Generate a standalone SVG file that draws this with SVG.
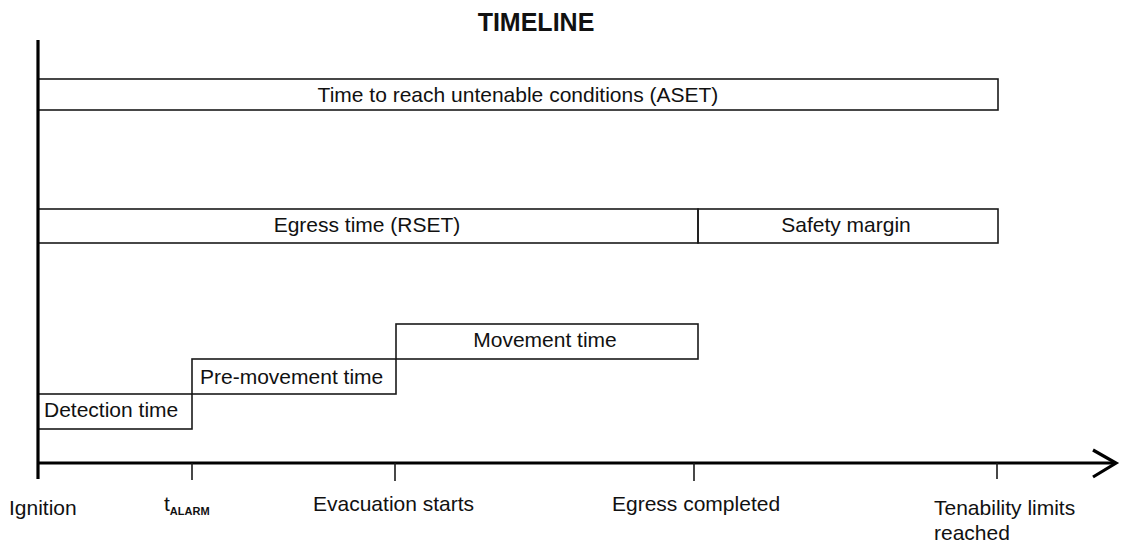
<svg xmlns="http://www.w3.org/2000/svg" width="1123" height="548" viewBox="0 0 1123 548">
<style>
.bx{fill:none;stroke:#1a1a1a;stroke-width:1.6}
.ax{stroke:#000;stroke-width:3.2;fill:none}
.tk{stroke:#1a1a1a;stroke-width:1.6}
text{font-family:"Liberation Sans",Arial,sans-serif;font-size:21px;fill:#111}
.c{text-anchor:middle}
</style>
<rect width="1123" height="548" fill="#fff"/>
<text id="title" x="536" y="31" class="c" style="font-weight:bold;font-size:25px">TIMELINE</text>
<g id="aset"><rect class="bx" x="38" y="79" width="960" height="31"/><text x="518" y="102" class="c">Time to reach untenable conditions (ASET)</text></g>
<g id="rset"><rect class="bx" x="38" y="209" width="660" height="34"/><text x="367" y="232" class="c">Egress time (RSET)</text></g>
<g id="safety"><rect class="bx" x="698" y="209" width="300" height="34"/><text x="846" y="232" class="c">Safety margin</text></g>
<g id="movement"><rect class="bx" x="396" y="324" width="302" height="35"/><text x="545" y="347" class="c">Movement time</text></g>
<g id="premovement"><rect class="bx" x="192" y="359" width="204" height="35"/><text x="200" y="384">Pre-movement time</text></g>
<g id="detection"><rect class="bx" x="38" y="394" width="154" height="35"/><text x="44" y="417">Detection time</text></g>
<g id="connectors">
<line class="ax" x1="38" y1="40" x2="38" y2="479"/>
<line class="ax" x1="38" y1="463" x2="1114" y2="463"/>
<polyline class="ax" points="1093,450 1116,463 1093,477" stroke-width="3.5"/>
<line class="tk" x1="192" y1="463" x2="192" y2="480"/>
<line class="tk" x1="395" y1="463" x2="395" y2="481"/>
<line class="tk" x1="694" y1="463" x2="694" y2="481"/>
<line class="tk" x1="997" y1="463" x2="997" y2="479"/>
</g>
<g id="labels">
<text x="9" y="515">Ignition</text>
<text x="164" y="511">t<tspan font-size="11" font-weight="bold" dy="4">ALARM</tspan></text>
<text x="313" y="511">Evacuation starts</text>
<text x="612" y="511">Egress completed</text>
<text x="934" y="515">Tenability limits</text>
<text x="934" y="540">reached</text>
</g>
</svg>
